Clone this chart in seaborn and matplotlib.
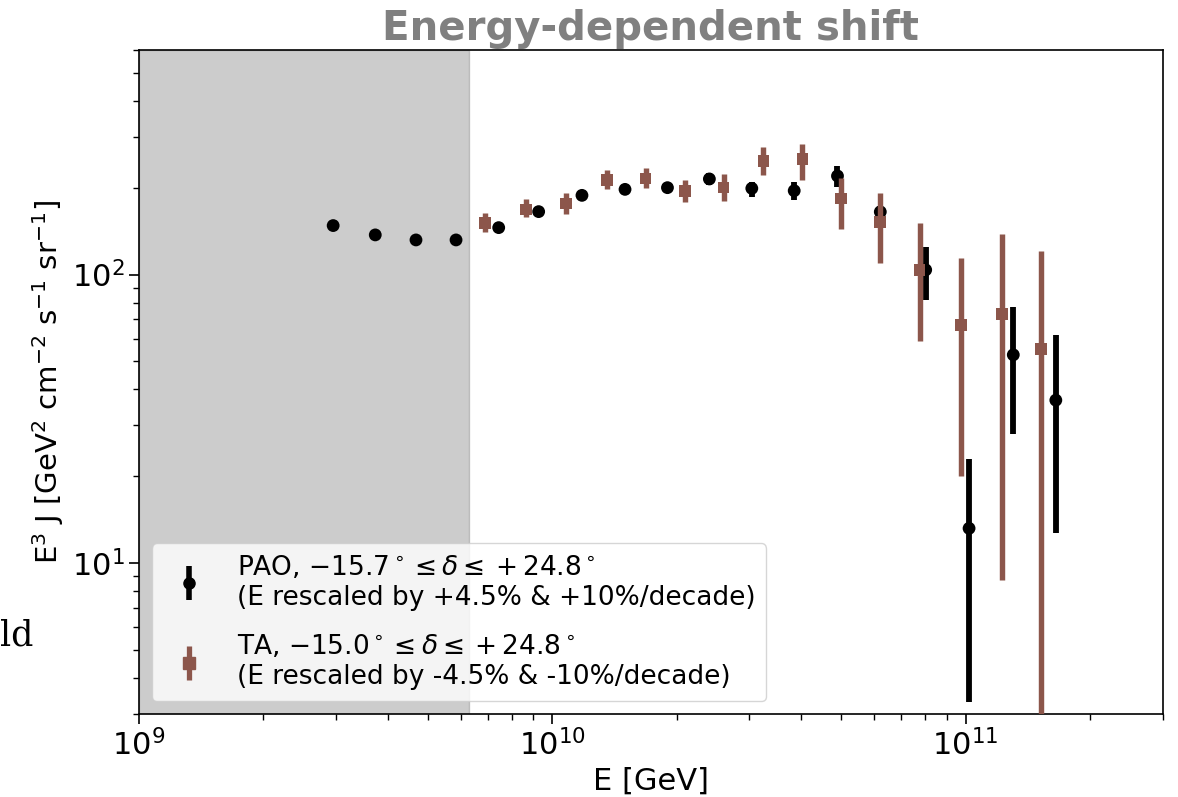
import numpy as np
import pandas as pd
import matplotlib
matplotlib.use("Agg")
import matplotlib.pyplot as plt
import seaborn as sns
from matplotlib.lines import Line2D

# ---------------- data ----------------
pao_E = [2.95e9, 3.73e9, 4.68e9, 5.85e9, 7.42e9, 9.27e9, 1.18e10, 1.50e10, 1.90e10,
         2.40e10, 3.04e10, 3.85e10, 4.90e10, 6.22e10, 8.01e10, 1.02e11, 1.305e11, 1.654e11]
pao_J = [147.8, 137.2, 131.8, 131.8, 145.4, 165.2, 188.1, 197.3, 200.0,
         214.4, 198.9, 195.2, 219.6, 164.9, 103.8, 13.2, 52.7, 36.7]
pao_lo = [143.8, 133.2, 127.8, 127.8, 141.4, 160.2, 183.1, 192.3, 194.0,
          204.4, 186.2, 181.7, 201.6, 157.0, 81.5, 3.31, 28.0, 12.7]
pao_hi = [151.8, 141.2, 135.8, 135.8, 149.4, 170.2, 193.1, 202.3, 206.0,
          224.0, 209.9, 209.9, 238.5, 173.0, 124.7, 22.9, 77.2, 61.7]

ta_E = [6.87e9, 8.64e9, 1.079e10, 1.357e10, 1.682e10, 2.092e10, 2.597e10, 3.243e10,
        4.03e10, 4.99e10, 6.22e10, 7.74e10, 9.74e10, 1.224e11, 1.524e11]
ta_J = [150.5, 168.2, 176.5, 212.7, 215.4, 195.0, 200.0, 247.4,
        251.3, 183.7, 151.8, 103.8, 66.8, 73.1, 55.3]
ta_lo = [140.9, 158.7, 162.2, 198.0, 200.0, 178.9, 180.3, 221.3,
         212.7, 143.9, 109.4, 59.0, 20.1, 8.77, 1.0]
ta_hi = [163.0, 182.2, 192.1, 230.2, 233.3, 212.0, 223.0, 277.3,
         284.0, 215.4, 192.1, 151.1, 114.2, 138.4, 120.7]

shade_range = [1e9, 6.3e9]
x_limits = [1e9, 3e11]
y_limits = [3, 600]

pao_label = ("PAO, $-15.7^\\circ \\leq \\delta \\leq +24.8^\\circ$\n"
             "(E rescaled by +4.5% & +10%/decade)")
ta_label = ("TA, $-15.0^\\circ \\leq \\delta \\leq +24.8^\\circ$\n"
            "(E rescaled by -4.5% & -10%/decade)")

PAO_COLOR = "black"
TA_COLOR = "#8c564b"

# ---------------- style ----------------
sns.set_style("ticks")
plt.rcParams["font.family"] = ["DejaVu Sans"]
plt.rcParams["mathtext.fontset"] = "dejavusans"
plt.rcParams["text.color"] = "black"
plt.rcParams["axes.labelcolor"] = "black"
plt.rcParams["xtick.color"] = "black"
plt.rcParams["ytick.color"] = "black"

fig = plt.figure(figsize=(11.78, 7.97), dpi=100)
ax = fig.add_axes([0.118, 0.1041, 0.869, 0.8332])

ax.set_xscale("log")
ax.set_yscale("log")

ax.axvspan(shade_range[0], shade_range[1], color="grey", alpha=0.4, zorder=0, lw=1)

pao = pd.DataFrame({"E": pao_E, "J": pao_J, "lo": pao_lo, "hi": pao_hi})
ta = pd.DataFrame({"E": ta_E, "J": ta_J, "lo": ta_lo, "hi": ta_hi})

ax.errorbar(pao["E"], pao["J"], yerr=[pao["J"] - pao["lo"], pao["hi"] - pao["J"]],
            fmt="none", ecolor=PAO_COLOR, elinewidth=4.2, capsize=0, zorder=2)
sns.scatterplot(data=pao, x="E", y="J", marker="o", color=PAO_COLOR, s=85,
                edgecolor="none", linewidth=0, ax=ax, zorder=3, legend=False)

ax.errorbar(ta["E"], ta["J"], yerr=[ta["J"] - ta["lo"], ta["hi"] - ta["J"]],
            fmt="none", ecolor=TA_COLOR, elinewidth=3.9, capsize=0, zorder=4)
sns.scatterplot(data=ta, x="E", y="J", marker="s", color=TA_COLOR, s=70,
                edgecolor="none", linewidth=0, ax=ax, zorder=5, legend=False)

ax.set_xlim(*x_limits)
ax.set_ylim(*y_limits)

ax.set_xlabel("E [GeV]", fontsize=22)
ax.set_ylabel("E$^3$ J [GeV$^2$ cm$^{-2}$ s$^{-1}$ sr$^{-1}$]", fontsize=21)
ax.set_title("Energy-dependent shift", fontsize=29, fontweight="bold",
             color="grey", pad=7)

ax.tick_params(axis="both", which="major", labelsize=22, length=7, width=1.2,
               direction="out", color="black")
ax.tick_params(axis="both", which="minor", length=4, width=1.0, direction="out",
               color="black")
for sp in ax.spines.values():
    sp.set_color("black")
    sp.set_linewidth(1.2)

# legend handles: marker with a vertical error bar (overlaid)
h_pao = (Line2D([], [], marker="|", markersize=24, markeredgewidth=4.0,
                color=PAO_COLOR, linestyle="none"),
         Line2D([], [], marker="o", markersize=8, color=PAO_COLOR, linestyle="none"))
h_ta = (Line2D([], [], marker="|", markersize=24, markeredgewidth=3.8,
               color=TA_COLOR, linestyle="none"),
        Line2D([], [], marker="s", markersize=8, color=TA_COLOR, linestyle="none"))
ax.legend([h_pao, h_ta], [pao_label, ta_label], loc="lower left", fontsize=19,
          labelspacing=0.85, frameon=True, framealpha=0.8, edgecolor="0.8",
          fancybox=True)

# stray text fragment visible at the left edge of the reference image
fig.text(0.0, 1 - 646 / 797, "ld", fontsize=25, family="DejaVu Serif",
         ha="left", va="baseline", color="black")

fig.savefig("out.png", dpi=100)
